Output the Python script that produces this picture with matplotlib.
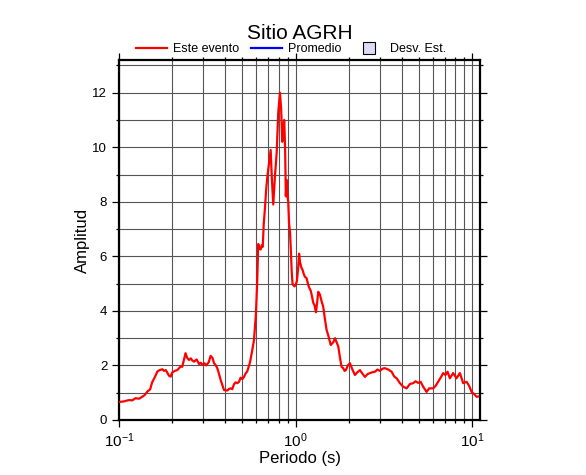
import matplotlib
matplotlib.use('Agg')
import matplotlib.pyplot as plt
from matplotlib.lines import Line2D
from matplotlib.ticker import MultipleLocator, LogLocator

plt.rcParams['font.family'] = ['Liberation Sans', 'DejaVu Sans']
plt.rcParams['mathtext.fontset'] = 'custom'
plt.rcParams['mathtext.rm'] = 'Liberation Sans'
plt.rcParams['mathtext.it'] = 'Liberation Sans:italic'

# periodo (s) y amplitud espectral
periodo = [0.100, 0.106, 0.114, 0.119, 0.124, 0.130, 0.136, 0.140, 0.145, 0.150,
           0.154, 0.160, 0.165, 0.170, 0.176, 0.180, 0.184, 0.188, 0.192, 0.196,
           0.200, 0.207, 0.214, 0.219, 0.223, 0.228, 0.233, 0.238, 0.243, 0.249,
           0.255, 0.260, 0.266, 0.275, 0.284, 0.290, 0.296, 0.304, 0.312, 0.322,
           0.330, 0.338, 0.345, 0.352, 0.360, 0.368, 0.376, 0.393, 0.410, 0.420,
           0.429, 0.438, 0.447, 0.457, 0.467, 0.478, 0.488, 0.499, 0.510, 0.521,
           0.532, 0.551, 0.566, 0.581, 0.596, 0.606, 0.614, 0.624, 0.634, 0.642,
           0.651, 0.660, 0.671, 0.680, 0.691, 0.706, 0.722, 0.734, 0.747, 0.763,
           0.781, 0.797, 0.815, 0.828, 0.840, 0.851, 0.862, 0.872, 0.880, 0.890,
           0.899, 0.908, 0.918, 0.929, 0.940, 0.949, 0.960, 0.969, 0.985, 1.000,
           1.017, 1.034, 1.046, 1.058, 1.076, 1.095, 1.112, 1.129, 1.153, 1.179,
           1.197, 1.216, 1.236, 1.258, 1.280, 1.303, 1.323, 1.343, 1.372, 1.403,
           1.433, 1.465, 1.497, 1.530, 1.580, 1.633, 1.670, 1.706, 1.743, 1.781,
           1.820, 1.859, 1.893, 1.926, 1.975, 2.029, 2.096, 2.166, 2.237, 2.312,
           2.388, 2.467, 2.550, 2.633, 2.720, 2.811, 2.905, 3.000, 3.100, 3.202,
           3.345, 3.495, 3.610, 3.730, 3.895, 4.064, 4.248, 4.435, 4.630, 4.780,
           4.941, 5.100, 5.274, 5.513, 5.703, 6.008, 6.200, 6.412, 6.620, 6.844,
           7.050, 7.248, 7.468, 7.797, 8.150, 8.508, 8.882, 9.286, 9.600, 9.911,
           10.25, 10.58, 10.80]
amplitud = [0.66, 0.68, 0.73, 0.72, 0.80, 0.78, 0.86, 0.92, 1.05, 1.12,
            1.38, 1.59, 1.78, 1.83, 1.86, 1.80, 1.83, 1.72, 1.62, 1.59,
            1.74, 1.80, 1.83, 1.90, 1.96, 1.95, 2.20, 2.45, 2.28, 2.20,
            2.26, 2.18, 2.14, 2.22, 2.05, 2.10, 2.02, 2.08, 2.00, 2.12,
            2.35, 2.28, 2.08, 2.02, 1.90, 1.70, 1.47, 1.10, 1.08, 1.14,
            1.16, 1.13, 1.30, 1.38, 1.35, 1.40, 1.55, 1.50, 1.58, 1.71,
            1.78, 2.10, 2.50, 2.93, 3.90, 5.10, 6.45, 6.30, 6.25, 6.40,
            6.35, 7.20, 7.80, 8.40, 8.90, 9.40, 9.90, 8.80, 7.90, 8.90,
            9.80, 11.27, 12.00, 11.40, 10.20, 10.70, 11.00, 9.90, 8.20, 8.80,
            8.20, 8.00, 7.20, 6.90, 6.20, 5.50, 5.00, 4.95, 4.90, 4.95,
            5.10, 5.60, 6.10, 5.80, 5.60, 5.50, 5.35, 5.25, 5.20, 4.95,
            4.83, 4.75, 4.55, 4.30, 4.20, 3.95, 4.30, 4.70, 4.60, 4.35,
            4.15, 3.70, 3.30, 3.10, 2.75, 2.85, 3.00, 2.85, 2.70, 2.30,
            1.95, 1.90, 1.80, 1.83, 2.00, 2.08, 1.85, 1.65, 1.75, 1.83,
            1.70, 1.58, 1.68, 1.72, 1.75, 1.77, 1.85, 1.80, 1.88, 1.90,
            1.85, 1.77, 1.60, 1.53, 1.35, 1.22, 1.16, 1.32, 1.35, 1.42,
            1.36, 1.40, 1.22, 1.03, 1.16, 1.16, 1.25, 1.40, 1.55, 1.72,
            1.65, 1.77, 1.53, 1.72, 1.53, 1.72, 1.35, 1.40, 1.25, 1.03,
            0.95, 0.85, 0.86]

fig = plt.figure(figsize=(5.86, 4.75), dpi=100)
ax = fig.add_axes([0.2031, 0.1158, 0.616, 0.758])

ax.plot(periodo, amplitud, color='#ff0000', lw=1.6, zorder=3)

ax.set_xscale('log')
ax.set_xlim(0.1, 11.06)
ax.set_ylim(0, 13.2)
ax.yaxis.set_major_locator(MultipleLocator(2))
ax.yaxis.set_minor_locator(MultipleLocator(1))
ax.xaxis.set_major_locator(LogLocator(base=10))
ax.xaxis.set_minor_locator(LogLocator(base=10, subs=range(2, 10)))
ax.grid(True, which='both', color='#555555', lw=0.8)
ax.set_axisbelow(True)

for s in ax.spines.values():
    s.set_linewidth(1.6)
ax.tick_params(which='both', direction='out', top=True, right=True, width=0.9)
ax.tick_params(which='major', length=5)
ax.tick_params(which='minor', length=2.5)
ax.tick_params(axis='x', which='major', labelsize=11, pad=3)
ax.tick_params(axis='y', labelsize=9.5)

ax.set_xlabel('Periodo (s)', fontsize=12, labelpad=1)
ax.set_ylabel('Amplitud', fontsize=12, labelpad=2)
fig.text(0.512, 0.917, 'Sitio AGRH', fontsize=15, ha='center', va='baseline')

handles = [Line2D([], [], color='#ff0000', lw=1.6),
           Line2D([], [], color='#0000ff', lw=1.6),
           Line2D([], [], ls='none', marker='s', markersize=8,
                  mfc='#dcdcf8', mec='black', mew=0.8)]
labels = ['Este evento', 'Promedio', 'Desv. Est.']
fig.legend(handles, labels, loc='center', bbox_to_anchor=(0.497, 0.897), ncol=3,
           frameon=False, fontsize=9, handlelength=2.5, handletextpad=0.5,
           columnspacing=0.9, borderpad=0)

fig.savefig('out.png', dpi=100)
